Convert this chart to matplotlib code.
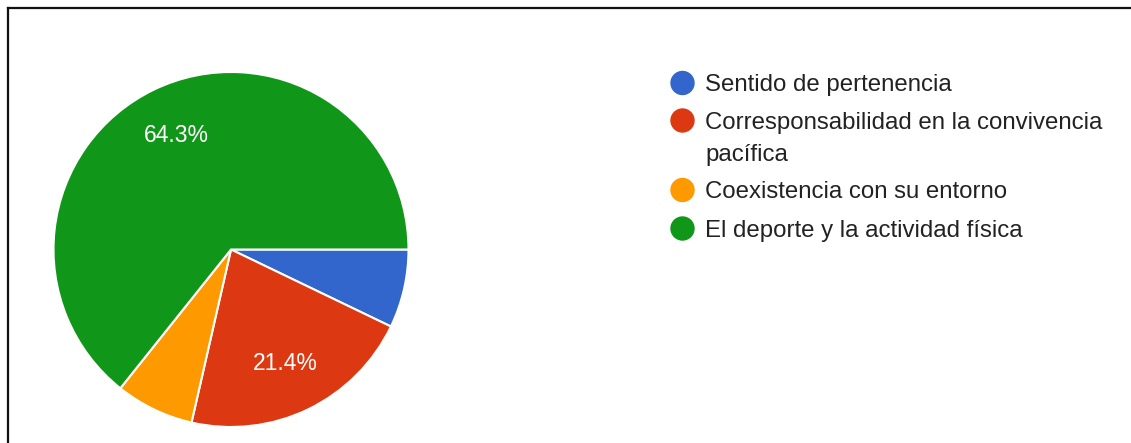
import matplotlib
matplotlib.use("Agg")
import matplotlib.pyplot as plt
from matplotlib.lines import Line2D
from matplotlib.patches import Ellipse

plt.rcParams['font.family'] = ['Liberation Sans', 'DejaVu Sans']

# Survey answers (count of respondents per option)
categories = ['Sentido de pertenencia',
              'Corresponsabilidad en la convivencia\npacífica',
              'Coexistencia con su entorno',
              'El deporte y la actividad física']
counts = [1, 3, 1, 9]
colors = ['#3366cc', '#dc3912', '#ff9900', '#109618']

W, H = 1131, 443
fig = plt.figure(figsize=(W / 100, H / 100), dpi=100)

# pie sits in a square axes on the left
cx, cy, r = 231, 249.5, 177.5
ax = fig.add_axes([(cx - r) / W, (H - cy - r) / H, 2 * r / W, 2 * r / H])
ax.pie(counts, colors=colors, startangle=0, counterclock=False,
       autopct=lambda p: f'{p:.1f}%' if p > 10 else '',
       pctdistance=0.71,
       wedgeprops=dict(edgecolor='white', linewidth=1.5),
       textprops=dict(color='white', fontsize=16.5))
ax.set_xlim(-1, 1)
ax.set_ylim(-1, 1)
ax.set_aspect('equal')
ax.axis('off')

# legend drawn by hand; wrapped entries get a second line 32 px lower
leg_rows = [83, 120.5, 190, 228.5]
dot_x, text_x = 682.5, 705
for name, col, y in zip(categories, colors, leg_rows):
    fig.patches.append(Ellipse((dot_x / W, 1 - y / H), 23 / W, 23 / H,
                               transform=fig.transFigure, color=col))
    for k, line in enumerate(name.split('\n')):
        fig.text(text_x / W, 1 - (y + 8.5 + 32.5 * k) / H, line,
                 fontsize=17.3, color='#222222', va='baseline', ha='left')

# frame along the top and left edges
fig.add_artist(Line2D([7.5 / W, 7.5 / W], [0, 1 - 8 / H],
                      transform=fig.transFigure, color='#111111', lw=1.6))
fig.add_artist(Line2D([7.5 / W, 1], [1 - 8 / H, 1 - 8 / H],
                      transform=fig.transFigure, color='#111111', lw=1.6))

fig.savefig('out.png', dpi=100, facecolor='white')
